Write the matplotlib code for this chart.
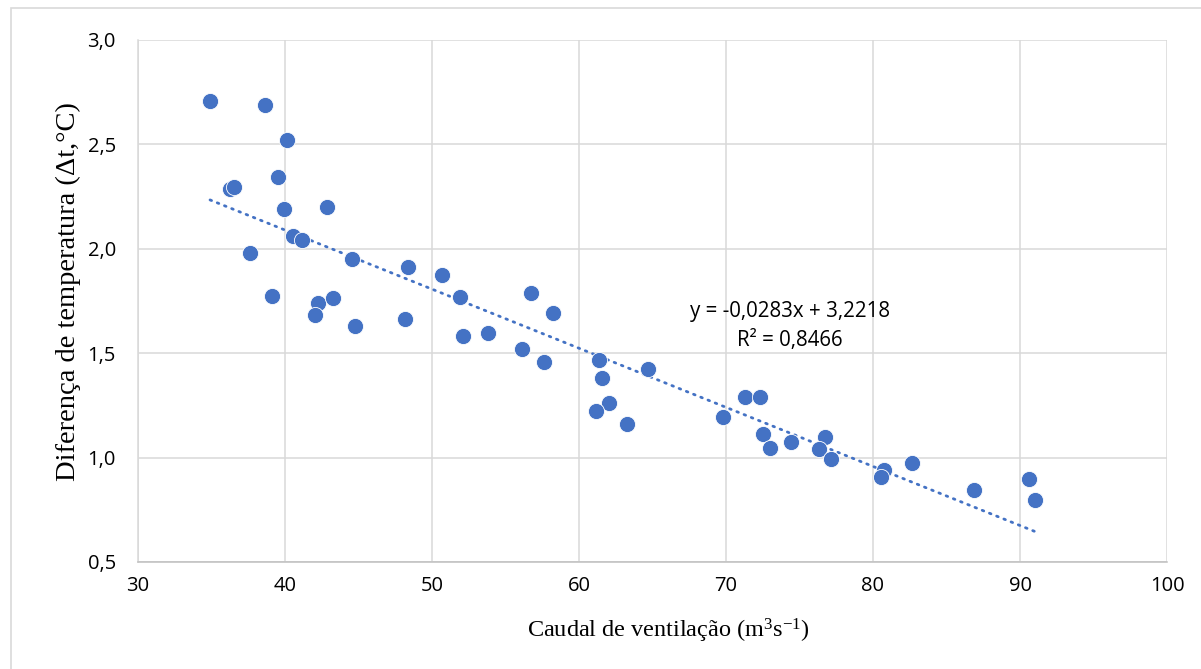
import numpy as np
import matplotlib
matplotlib.use('Agg')
import matplotlib.pyplot as plt
from matplotlib.patches import Rectangle

# --- data ---
caudal = [34.9, 38.64, 40.14, 39.52, 36.26, 36.53, 39.93, 42.86, 37.62, 40.52,
          41.18, 44.54, 39.09, 42.22, 42.04, 43.27, 44.76, 48.35, 50.66, 51.90,
          48.14, 56.76, 58.21, 52.13, 53.81, 56.12, 57.60, 61.38, 61.59, 64.72,
          62.02, 61.16, 63.29, 69.80, 71.31, 72.31, 72.54, 72.97, 74.44, 76.76,
          76.35, 77.17, 80.75, 80.52, 82.67, 86.85, 90.63, 91.04]
delta_t = [2.708, 2.689, 2.521, 2.344, 2.286, 2.296, 2.191, 2.200, 1.980, 2.063,
           2.044, 1.950, 1.774, 1.742, 1.681, 1.766, 1.632, 1.911, 1.875, 1.771,
           1.664, 1.790, 1.693, 1.581, 1.598, 1.519, 1.458, 1.467, 1.380, 1.423,
           1.260, 1.223, 1.162, 1.194, 1.292, 1.290, 1.114, 1.046, 1.073, 1.097,
           1.043, 0.993, 0.941, 0.906, 0.973, 0.845, 0.899, 0.798]
slope, intercept = -0.0283, 3.2218
eq_text = 'y = -0,0283x + 3,2218'
r2_text = 'R² = 0,8466'

x_ticks = [30, 40, 50, 60, 70, 80, 90, 100]
y_ticks = [0.5, 1.0, 1.5, 2.0, 2.5, 3.0]

blue = '#4472C4'
grid_c = '#d9d9d9'
tick_font = 'Open Sans'
serif = 'Liberation Serif'
W, H = 1201, 669

fig = plt.figure(figsize=(W / 100, H / 100), dpi=100, facecolor='white')
ax = fig.add_axes([138 / W, 1 - 562 / H, (1167 - 138) / W, (562 - 40) / H])

# chart-area border (cropped at right/bottom in the reference)
fig.patches.append(Rectangle((11 / W, -0.05), 1.2, 1 - 8 / H + 0.05,
                             transform=fig.transFigure, fill=False,
                             edgecolor=grid_c, linewidth=1.2))

ax.set_xlim(30, 100)
ax.set_ylim(0.5, 3.0)
ax.set_xticks(x_ticks)
ax.set_yticks(y_ticks)
ax.set_xticklabels([str(v) for v in x_ticks])
ax.set_yticklabels([f'{v:.1f}'.replace('.', ',') for v in y_ticks])
ax.tick_params(length=0, labelsize=14.5, colors='black')
ax.tick_params(axis='y', pad=16)
ax.tick_params(axis='x', pad=10)
for lab in ax.get_xticklabels() + ax.get_yticklabels():
    lab.set_fontfamily(tick_font)

ax.grid(True, color=grid_c, linewidth=1.1)
ax.set_axisbelow(True)
for s in ['top', 'right']:
    ax.spines[s].set_visible(False)
ax.spines['left'].set_color(grid_c)
ax.spines['left'].set_linewidth(1.1)
ax.spines['bottom'].set_color('#bfbfbf')
ax.spines['bottom'].set_linewidth(1.1)

# trendline over the data range
xs = np.array([min(caudal), max(caudal)])
ax.plot(xs, slope * xs + intercept, color=blue, linewidth=2.0,
        linestyle=(0, (0.6, 2.2)), dash_capstyle='round', zorder=2)

ax.scatter(caudal, delta_t, s=135, color=blue, edgecolors='white',
           linewidths=0.6, zorder=3)

ax.text(74.35, 1.70, eq_text, ha='center', va='center', fontsize=14.8,
        family=tick_font)
ax.text(74.35, 1.563, r2_text, ha='center', va='center', fontsize=14.8,
        family=tick_font)

fig.text(668 / W, 1 - 631 / H,
         r'Caudal de ventilação (m$\mathregular{^{3}}$s$\mathregular{^{-1}}$)',
         family=serif, fontsize=17.5, ha='center', va='center')
fig.text(68 / W, 1 - 292 / H, 'Diferença de temperatura (Δt,°C)',
         family=serif, fontsize=20.5, rotation=90, ha='center', va='center')

fig.savefig('out.png', dpi=100, facecolor='white')
